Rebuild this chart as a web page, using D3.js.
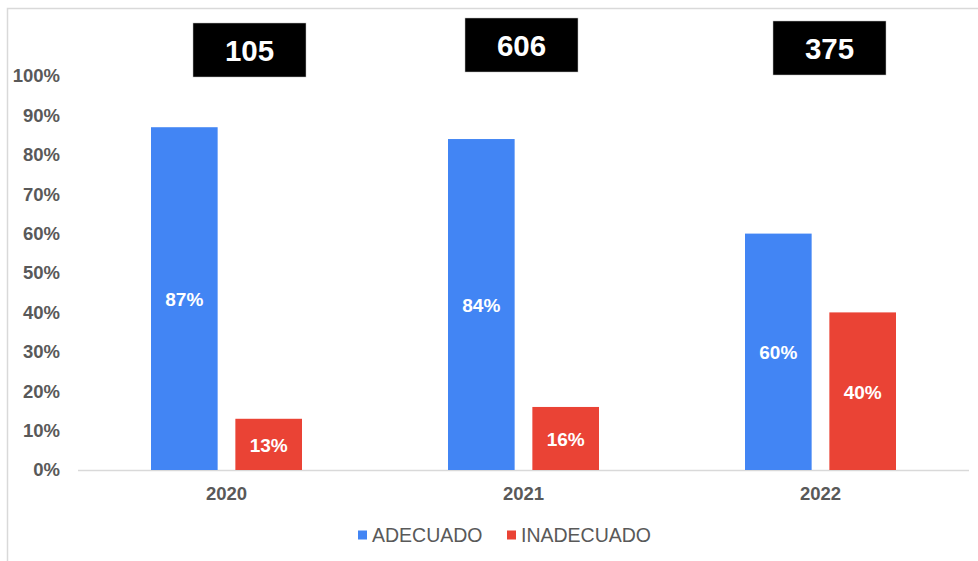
<!DOCTYPE html>
<html><head><meta charset="utf-8">
<script src="https://cdn.jsdelivr.net/npm/d3@7"></script>
<style>body{margin:0;background:#fff}svg{display:block}text{font-family:"Liberation Sans",Arial,sans-serif}</style>
</head><body>
<svg id="c" width="978" height="561"></svg>
<script>
const categories = ["2020", "2021", "2022"];
const adecuado = [0.87, 0.84, 0.60];
const inadecuado = [0.13, 0.16, 0.40];
const totals = [105, 606, 375];
const seriesNames = ["ADECUADO", "INADECUADO"];
const seriesColors = ["#4285F4", "#EA4335"];
const yTicks = [0,0.1,0.2,0.3,0.4,0.5,0.6,0.7,0.8,0.9,1.0];
// box layout (dx from category center, top y)
const boxLayout = [{dx: 23, y: 23}, {dx: -2, y: 18}, {dx: 9, y: 21}];

const svg = d3.select("#c");
// border
svg.append("path").attr("d","M7.5,561 V8.5 H978").attr("fill","none").attr("stroke","#d9d9d9").attr("stroke-width",1.5);

const x = d3.scaleBand().domain(categories).range([78, 969]);
const y = d3.scaleLinear().domain([0,1]).range([470, 76]);
const inner = d3.scaleBand().domain(seriesNames).range([73, 224]).paddingInner(0.21);

// y axis labels
svg.append("g").selectAll("text").data(yTicks).join("text")
  .attr("x", 60).attr("y", d => y(d)).attr("dy","0.35em")
  .attr("text-anchor","end").attr("font-size",18.5).attr("font-weight","bold").attr("fill","#595959")
  .text(d => d3.format(".0%")(d));

// baseline
svg.append("line").attr("x1",78).attr("x2",969).attr("y1",y(0)+0.5).attr("y2",y(0)+0.5).attr("stroke","#d9d9d9").attr("stroke-width",1.5);

const series = [adecuado, inadecuado];
series.forEach((vals, si) => {
  const g = svg.append("g");
  g.selectAll("rect").data(vals).join("rect")
    .attr("x", (d,i) => x(categories[i]) + inner(seriesNames[si]))
    .attr("width", inner.bandwidth())
    .attr("y", d => y(d)).attr("height", d => y(0) - y(d))
    .attr("fill", seriesColors[si]);
  g.selectAll("text").data(vals).join("text")
    .attr("x", (d,i) => x(categories[i]) + inner(seriesNames[si]) + inner.bandwidth()/2)
    .attr("y", d => (y(d) + y(0))/2 + 1).attr("dy","0.35em")
    .attr("text-anchor","middle").attr("font-size",19).attr("font-weight","bold").attr("fill","#fff")
    .text(d => d3.format(".0%")(d));
});

// category labels
svg.append("g").selectAll("text").data(categories).join("text")
  .attr("x", d => x(d) + x.bandwidth()/2).attr("y", 494).attr("dy","0.35em")
  .attr("text-anchor","middle").attr("font-size",18.5).attr("font-weight","bold").attr("fill","#595959")
  .text(d => d);

// total boxes
const bw = 113, bh = 54;
const boxes = svg.append("g").selectAll("g").data(totals).join("g")
  .attr("transform", (d,i) => `translate(${x(categories[i]) + x.bandwidth()/2 + boxLayout[i].dx - bw/2},${boxLayout[i].y})`);
boxes.append("rect").attr("width", bw).attr("height", bh).attr("fill","#000").attr("stroke","#bfbfbf").attr("stroke-width",0.5);
boxes.append("text").attr("x", bw/2).attr("y", bh/2 + 1).attr("dy","0.35em").attr("text-anchor","middle")
  .attr("font-size",29.5).attr("font-weight","bold").attr("fill","#fff").text(d => d);

// legend
const legX = [358, 507];
const leg = svg.append("g").selectAll("g").data(seriesNames).join("g")
  .attr("transform", (d,i) => `translate(${legX[i]},535)`);
leg.append("rect").attr("x",0).attr("y",-4.5).attr("width",9).attr("height",9).attr("fill",(d,i)=>seriesColors[i]);
leg.append("text").attr("x",14).attr("y",0).attr("dy","0.35em").attr("font-size",19.5).attr("fill","#595959").text(d=>d);
</script>
</body></html>
